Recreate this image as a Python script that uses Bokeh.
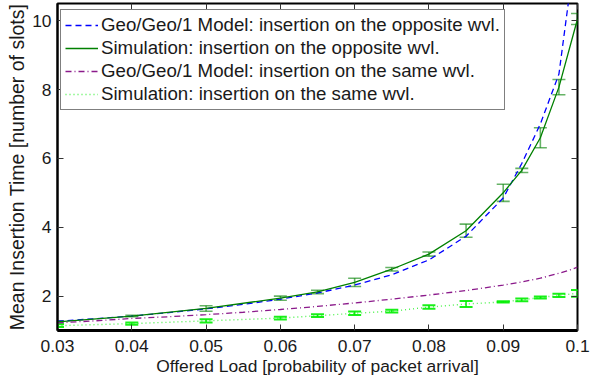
from bokeh.plotting import figure
from bokeh.models import (ColumnDataSource, Whisker, TeeHead, LinearAxis, FixedTicker,
                          Range1d, Legend, LegendItem, CustomJSTickFormatter)
from bokeh.embed import file_html
from bokeh.resources import INLINE

# ---------------- data ----------------
x_model = [0.03, 0.035, 0.04, 0.045, 0.05, 0.055, 0.06, 0.065, 0.07, 0.075,
           0.08, 0.085, 0.09, 0.0925, 0.095, 0.0975, 0.099, 0.1]
model_opposite = [1.27, 1.34, 1.42, 1.52, 1.63, 1.76, 1.91, 2.09, 2.32, 2.62,
                  3.05, 3.74, 4.85, 5.85, 7.0, 8.45, 10.9, 12.8]
model_same = [1.22, 1.28, 1.35, 1.40, 1.46, 1.53, 1.61, 1.70, 1.80, 1.91,
              2.03, 2.16, 2.32, 2.41, 2.52, 2.66, 2.76, 2.84]

x_sim = [0.03, 0.04, 0.05, 0.06, 0.065, 0.07, 0.075, 0.08, 0.085, 0.09,
         0.0925, 0.095, 0.0975, 0.1]
sim_opposite = [1.25, 1.42, 1.64, 1.94, 2.12, 2.40, 2.78, 3.22, 3.90, 5.0,
                5.65, 6.6, 8.07, 10.05]
err_opposite = [0.03, 0.02, 0.08, 0.06, 0.05, 0.12, 0.05, 0.06, 0.19, 0.25,
                0.06, 0.29, 0.22, 0.16]
sim_same = [1.14, 1.20, 1.28, 1.36, 1.43, 1.50, 1.56, 1.68, 1.77, 1.83,
            1.89, 1.96, 2.02, 2.08]
err_same = [0.04, 0.03, 0.05, 0.04, 0.04, 0.05, 0.04, 0.05, 0.09, 0.02,
            0.04, 0.03, 0.05, 0.10]

x_ticks = [0.03, 0.04, 0.05, 0.06, 0.07, 0.08, 0.09, 0.1]
x_tick_labels = ["0.03", "0.04", "0.05", "0.06", "0.07", "0.08", "0.09", "0.1"]
y_ticks = [2, 4, 6, 8, 10]

legend_labels = [
    "Geo/Geo/1 Model: insertion on the opposite wvl.",
    "Simulation: insertion on the opposite wvl.",
    "Geo/Geo/1 Model: insertion on the same wvl.",
    "Simulation: insertion on the same wvl.",
]
x_label = "Offered Load [probability of packet arrival]"
y_label = "Mean Insertion Time [number of slots]"

# ---------------- figure ----------------
FONT = "Liberation Sans"
p = figure(output_backend="svg", toolbar_location=None,
           frame_width=520, frame_height=327,
           min_border_left=57, min_border_right=22, min_border_top=3, min_border_bottom=50,
           x_range=Range1d(0.03, 0.1), y_range=Range1d(1, 10.5))
p.background_fill_color = "white"
p.border_fill_color = "white"
p.outline_line_color = "black"
p.outline_line_width = 2
p.xgrid.visible = False
p.ygrid.visible = False

BLUE = "#0000ff"
GREEN = "#008000"
PURPLE = "#8b1a8b"
LIME = "#00ee00"

src_model = ColumnDataSource(dict(x=x_model, opp=model_opposite, same=model_same))
lo_opp = [v - e for v, e in zip(sim_opposite, err_opposite)]
hi_opp = [v + e for v, e in zip(sim_opposite, err_opposite)]
lo_same = [v - e for v, e in zip(sim_same, err_same)]
hi_same = [v + e for v, e in zip(sim_same, err_same)]
src_sim = ColumnDataSource(dict(x=x_sim, opp=sim_opposite, same=sim_same,
                                lo_opp=lo_opp, hi_opp=hi_opp,
                                lo_same=lo_same, hi_same=hi_same))

# error bars
w1 = Whisker(source=src_sim, base="x", lower="lo_opp", upper="hi_opp",
             line_color=GREEN, line_alpha=0.6, line_width=1.6,
             upper_head=TeeHead(size=13, line_color=GREEN, line_alpha=0.6, line_width=1.6),
             lower_head=TeeHead(size=13, line_color=GREEN, line_alpha=0.6, line_width=1.6))
w2 = Whisker(source=src_sim, base="x", lower="lo_same", upper="hi_same",
             line_color=LIME, line_alpha=0.9, line_width=1.6,
             upper_head=TeeHead(size=13, line_color=LIME, line_alpha=0.9, line_width=2),
             lower_head=TeeHead(size=13, line_color=LIME, line_alpha=0.9, line_width=2))
p.add_layout(w1)
p.add_layout(w2)

r1 = p.line("x", "opp", source=src_model, line_color=BLUE, line_width=1.3, line_dash="6 4")
r2 = p.line("x", "opp", source=src_sim, line_color=GREEN, line_width=1.3)
r3 = p.line("x", "same", source=src_model, line_color=PURPLE, line_width=1.3, line_dash="6 3 1 3")
r4 = p.line("x", "same", source=src_sim, line_color=LIME, line_alpha=0.7, line_width=1.4, line_dash="1 3")

# ---------------- axes ----------------
for ax in (p.xaxis[0], p.yaxis[0]):
    ax.major_tick_in = 6
    ax.major_tick_out = 0
    ax.minor_tick_in = 0
    ax.minor_tick_out = 0
    ax.major_tick_line_color = "#333333"
    ax.axis_line_color = "black"
    ax.major_label_text_font = FONT
    ax.major_label_text_font_size = "17.4px"
    ax.major_label_text_color = "#1a1a1a"
    ax.axis_label_text_font = FONT
    ax.axis_label_text_font_size = "17.4px"
    ax.axis_label_text_font_style = "normal"
    ax.axis_label_text_color = "#1a1a1a"

p.xaxis[0].ticker = FixedTicker(ticks=x_ticks)
p.xaxis[0].major_label_overrides = dict(zip(x_ticks, x_tick_labels))
p.xaxis[0].axis_label = x_label
p.xaxis[0].axis_line_width = 3
p.xaxis[0].major_label_standoff = 9
p.xaxis[0].axis_label_standoff = 1

p.yaxis[0].ticker = FixedTicker(ticks=y_ticks)
p.yaxis[0].axis_label = y_label
p.yaxis[0].axis_label_text_font_size = "19.5px"
p.yaxis[0].axis_line_width = 2
p.yaxis[0].major_label_standoff = 6
p.yaxis[0].axis_label_standoff = 1

blank = CustomJSTickFormatter(code="return ''")
top = LinearAxis(ticker=FixedTicker(ticks=x_ticks), formatter=blank)
right = LinearAxis(ticker=FixedTicker(ticks=y_ticks), formatter=blank)
for ax in (top, right):
    ax.major_tick_in = 6
    ax.major_tick_out = 0
    ax.minor_tick_in = 0
    ax.minor_tick_out = 0
    ax.major_tick_line_color = "#333333"
    ax.major_tick_line_width = 1
    ax.axis_line_color = None
    ax.major_label_text_font_size = "1px"
    ax.major_label_standoff = 0
    ax.axis_label_standoff = 0
p.add_layout(top, "above")
p.add_layout(right, "right")

# ---------------- legend ----------------
legend = Legend(items=[LegendItem(label=legend_labels[0], renderers=[r1]),
                       LegendItem(label=legend_labels[1], renderers=[r2]),
                       LegendItem(label=legend_labels[2], renderers=[r3]),
                       LegendItem(label=legend_labels[3], renderers=[r4])],
                location=(3, 220))
legend.margin = 0
legend.padding = 4
legend.spacing = 1
legend.glyph_width = 33
legend.glyph_height = 20
legend.label_standoff = 3
legend.label_text_font = FONT
legend.label_text_font_size = "18.7px"
legend.label_text_color = "#1a1a1a"
legend.border_line_color = "black"
legend.border_line_width = 1.5
legend.background_fill_color = "white"
legend.background_fill_alpha = 1.0
p.add_layout(legend, "center")

open("out.html", "w").write(file_html(p, INLINE))
